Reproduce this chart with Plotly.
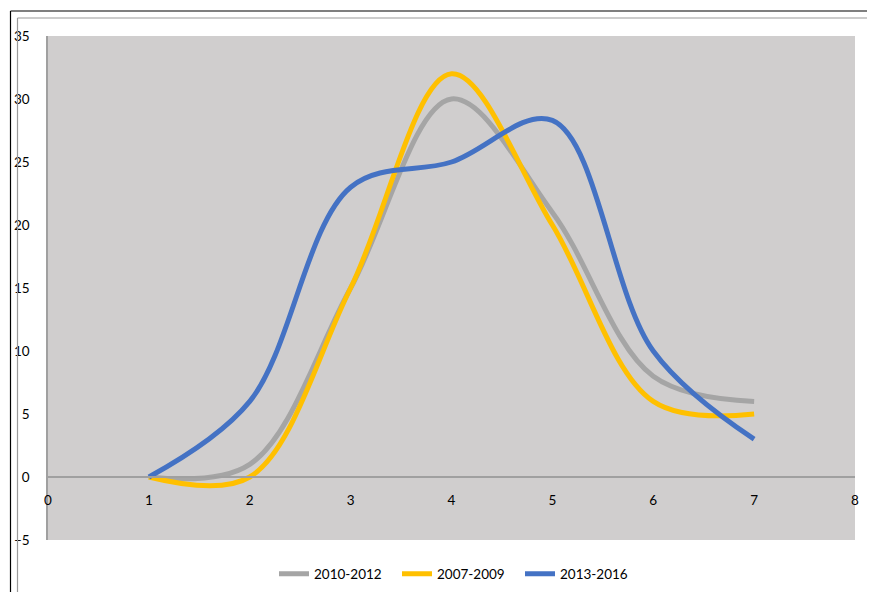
import plotly.graph_objects as go

x_values = [1, 2, 3, 4, 5, 6, 7]
series_names = ["2010-2012", "2007-2009", "2013-2016"]
gray_values = [0, 1, 15, 30, 21, 8, 6]
yellow_values = [0, 0, 15, 32, 20, 6, 5]
blue_values = [0, 6, 23, 25, 28.3, 10, 3]
colors = ["#A5A5A5", "#FFC000", "#4472C4"]

fig = go.Figure()
for name, vals, col in zip(series_names, [gray_values, yellow_values, blue_values], colors):
    fig.add_trace(go.Scatter(x=x_values, y=vals, mode="lines", name=name,
                             line=dict(color=col, width=5, shape="spline", smoothing=1.0)))

OFF = 8  # page body margin
W, H = 875, 592
L, T = 48 - OFF, 36 - OFF
pw, ph = 807, 504
R = W - L - pw
B = H - T - ph

def px(xs):
    return (xs - OFF - L) / pw

def py(ys):
    return (T + ph - (ys - OFF)) / ph

zero_frac = (0 - (-5)) / 40.0

shapes = [
    dict(type="line", xref="paper", yref="paper", x0=px(10.5), x1=px(890), y0=py(11), y1=py(11),
         line=dict(color="black", width=1.2)),
    dict(type="line", xref="paper", yref="paper", x0=px(10.5), x1=px(10.5), y0=py(11), y1=py(610),
         line=dict(color="black", width=1.2)),
    dict(type="line", xref="paper", yref="paper", x0=px(17.5), x1=px(890), y0=py(18), y1=py(18),
         line=dict(color="#9A9A9A", width=1.2)),
    dict(type="line", xref="paper", yref="paper", x0=px(17.5), x1=px(17.5), y0=py(18), y1=py(610),
         line=dict(color="#9A9A9A", width=1.2)),
]

fig.update_layout(
    width=W, height=H,
    margin=dict(l=L, r=R, t=T, b=B, autoexpand=False),
    paper_bgcolor="white",
    plot_bgcolor="#D0CECE",
    font=dict(family="Lato, Open Sans, sans-serif", size=13.5, color="black"),
    shapes=shapes,
    showlegend=True,
    legend=dict(orientation="h", x=px(274), xanchor="left", y=py(574), yanchor="middle",
                font=dict(size=13.5), bgcolor="rgba(0,0,0,0)", itemwidth=30,
                entrywidth=78, entrywidthmode="pixels"),
    xaxis=dict(range=[0, 8], tickvals=[0, 1, 2, 3, 4, 5, 6, 7, 8], showgrid=False,
               zeroline=False, showline=True, linecolor="#A0A0A0", linewidth=1.5,
               anchor="free", position=zero_frac, ticks="", ticklabelstandoff=11,
               automargin=False),
    yaxis=dict(range=[-5, 35], tickvals=[-5, 0, 5, 10, 15, 20, 25, 30, 35], showgrid=False,
               zeroline=False, showline=True, linecolor="#A0A0A0", linewidth=1.5,
               ticks="", ticklabelstandoff=14, automargin=False),
)

fig.write_html("out.html")
